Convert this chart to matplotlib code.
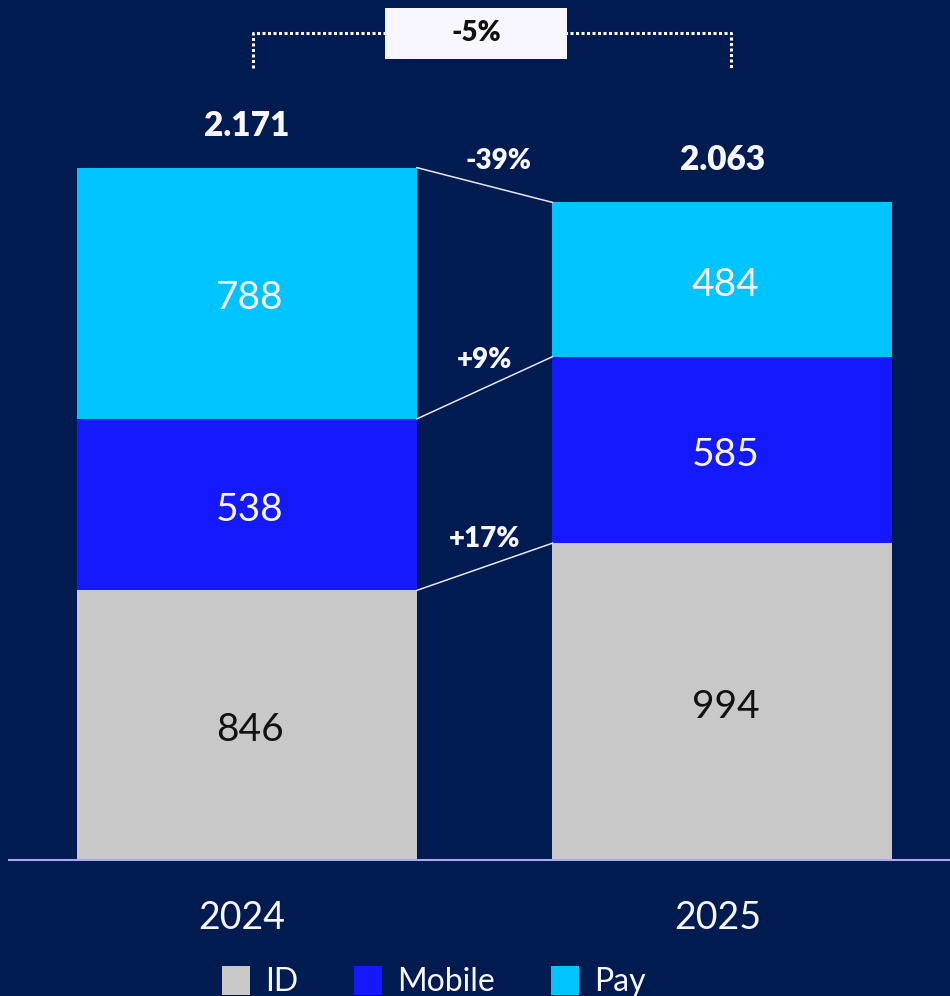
import matplotlib
matplotlib.use("Agg")
import matplotlib.pyplot as plt
from matplotlib.patches import Rectangle, Patch

plt.rcParams['font.family'] = ['Lato', 'DejaVu Sans']

# data
years = ['2024', '2025']
categories = ['ID', 'Mobile', 'Pay']
values_2024 = [846, 538, 788]
values_2025 = [994, 585, 484]
totals = [2171, 2063]          # as printed (rounded source data)
changes = ['+17%', '+9%', '-39%']
total_change = '-5%'
colors = ['#C8C8C8', '#1419FF', '#00C4FF']
label_colors = ['#111111', '#F8F6FF', '#F8F6FF']

BG = '#001B50'
TXT = '#F8F6FF'
BOLD = 'heavy'

W, H = 950, 996
BASE_PX = 860          # baseline, pixels from top
YMAX = 2698            # data value at top edge of figure
BAR_W = 0.715
PX_Y = BASE_PX / YMAX  # pixels per data unit
PT = 0.72              # points per pixel at 100 dpi


def main():
    fig = plt.figure(figsize=(W / 100, H / 100), dpi=100, facecolor=BG)
    ax = fig.add_axes([9 / W, (H - BASE_PX) / H, 941 / W, BASE_PX / H])
    ax.set_facecolor(BG)
    ax.set_xlim(-0.5005, 1.4785)
    ax.set_ylim(0, YMAX)

    series = [values_2024, values_2025]
    tops = []
    for x, vals in enumerate(series):
        bottom = 0
        seg_tops = []
        for v, c, lc in zip(vals, colors, label_colors):
            ax.bar(x, v, bottom=bottom, width=BAR_W, color=c, linewidth=0, zorder=2)
            ax.annotate(str(v), xy=(x, bottom + v / 2), xytext=(3 * PT, -5 * PT),
                        textcoords='offset points', ha='center', va='center',
                        fontsize=28, color=lc, zorder=3)
            bottom += v
            seg_tops.append(bottom)
        tops.append(seg_tops)
        total = f"{totals[x]:,}".replace(',', '.')
        ax.annotate(total, xy=(x, bottom), xytext=(0, 42 * PT),
                    textcoords='offset points', ha='center', va='center',
                    fontsize=24, fontweight=BOLD, color=TXT)

    # connectors + change labels
    x0, x1 = BAR_W / 2, 1 - BAR_W / 2
    label_x = [0.50, 0.50, 0.53]
    for i in range(len(categories)):
        y0, y1 = tops[0][i], tops[1][i]
        ax.plot([x0, x1], [y0, y1], color='#E6E6EE', lw=1.1, zorder=2)
        lx = label_x[i]
        ly = y0 + (y1 - y0) * (lx - x0) / (x1 - x0)
        ax.annotate(changes[i], xy=(lx, ly), xytext=(0, 28 * PT),
                    textcoords='offset points', ha='center', va='center',
                    fontsize=20, fontweight=BOLD, color=TXT)

    # total change bracket
    top = max(totals)
    leg_y = top + 100 / PX_Y
    bar_y = top + 135 / PX_Y
    ax.plot([0.013, 0.013, 1.018, 1.018], [leg_y, bar_y, bar_y, leg_y],
            color='white', lw=2.2, dashes=(1, 0.8), dash_capstyle='butt',
            solid_joinstyle='miter', zorder=2, clip_on=False)
    bx0, bx1 = 0.290, 0.673
    by0, by1 = top + 109 / PX_Y, top + 160 / PX_Y
    ax.add_patch(Rectangle((bx0, by0), bx1 - bx0, by1 - by0, facecolor='#F8F6FF',
                           edgecolor='none', zorder=3, clip_on=False))
    ax.text((bx0 + bx1) / 2, (by0 + by1) / 2, total_change,
            ha='center', va='center', fontsize=20, fontweight=BOLD,
            color='#111111', zorder=4)

    # axes styling
    for s in ['top', 'left', 'right']:
        ax.spines[s].set_visible(False)
    ax.spines['bottom'].set_color('#A9A8F0')
    ax.spines['bottom'].set_linewidth(1.5)
    ax.spines['bottom'].set_zorder(4)
    ax.set_yticks([])
    ax.set_xticks([-0.01, 0.99])
    ax.set_xticklabels(years, fontsize=27, color=TXT)
    ax.tick_params(axis='x', length=0, pad=29)

    handles = [Patch(facecolor=c, edgecolor='none') for c in colors]
    fig.legend(handles, categories, loc='upper left',
               bbox_to_anchor=(222 / W, 1 - 966 / H), ncol=3, frameon=False,
               fontsize=23, labelcolor=TXT, handlelength=0.88, handleheight=1.0,
               handletextpad=0.47, columnspacing=1.75, borderpad=0, borderaxespad=0)

    fig.savefig('out.png', dpi=100, facecolor=BG)


if __name__ == '__main__':
    main()
